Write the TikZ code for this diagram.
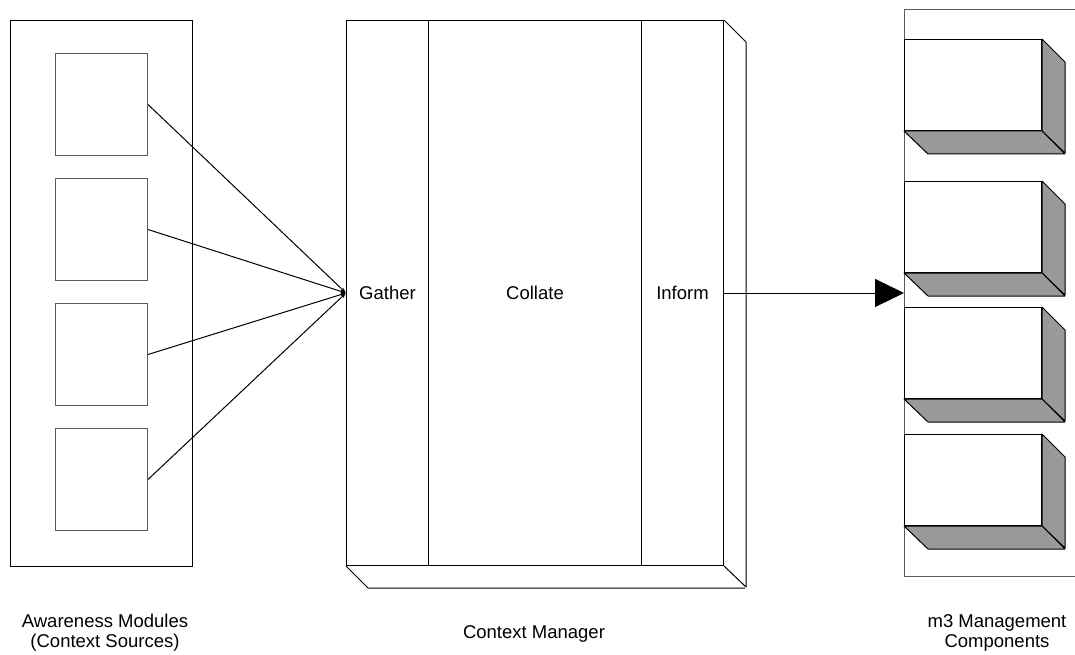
\documentclass[tikz,border=0pt]{standalone}
\usepackage{fontspec}
\setmainfont{Liberation Sans}
\usetikzlibrary{arrows.meta}
\definecolor{compgray}{RGB}{153,153,153}
\definecolor{edgegray}{RGB}{90,90,90}
\begin{document}
\begin{tikzpicture}[x=1pt,y=-1pt,line width=1pt,
  panel/.style={draw=black,anchor=north west,inner sep=0pt},
  module/.style={draw=edgegray,anchor=north west,inner sep=0pt,minimum width=92pt,minimum height=102pt},
  cmpart/.style={draw=black,anchor=north west,inner sep=0pt,minimum height=545pt,font=\fontsize{18.5}{20}\selectfont},
  comp/.style={draw=black,anchor=north west,inner sep=0pt,minimum width=137pt,minimum height=91pt},
  face/.style={fill=compgray,draw=black,line join=round},
  feed/.style={-{Latex[length=5pt,width=4pt]}},
  label/.style={align=center,inner sep=0pt,font=\fontsize{18.5}{20}\selectfont}]
\useasboundingbox (0,0) rectangle (1075,655);
% left panel
\node[panel,minimum width=182pt,minimum height=546pt] (aw) at (10,20) {};
\node[module] (m1) at (55,53) {};
\node[module] (m2) at (55,178) {};
\node[module] (m3) at (55,303) {};
\node[module] (m4) at (55,428) {};
% context manager
\node[cmpart,minimum width=82pt] (gather) at (346,20) {Gather};
\node[cmpart,minimum width=213pt] (collate) at (428,20) {Collate};
\node[cmpart,minimum width=82pt] (inform) at (641,20) {Inform};
\draw[line join=round] (inform.north east) -- ++(22,22) -- ++(0,545) -- (inform.south east);
\draw[line join=round] (gather.south west) -- ++(22,22) -- ++(377,0);
% right panel
\node[panel,draw=edgegray,minimum width=190pt,minimum height=567pt] (mp) at (904,9) {};
\foreach \n/\y in {c1/39,c2/181,c3/307,c4/434}{
  \node[comp] (\n) at (904,\y) {};
  \path[face] (\n.north east) -- ++(23,23) -- ++(0,91) -- (\n.south east) -- cycle;
  \path[face] (\n.south west) -- (\n.south east) -- ++(23,23) -- ++(-137,0) -- cycle;
}
% connectors
\foreach \m in {m1,m2,m3,m4}{
  \draw[feed] (\m.east) -- (gather.west);
}
\draw[-{Triangle[length=29pt,width=28pt]}] (inform.east) -- (mp.west);
% labels
\node[label] (lab1) at (105,633) {Awareness Modules\\(Context Sources)};
\node[label,anchor=base] (lab2) at (534,638) {Context Manager};
\node[label] (lab3) at (997,633) {m3 Management\\Components};
\end{tikzpicture}
\end{document}
